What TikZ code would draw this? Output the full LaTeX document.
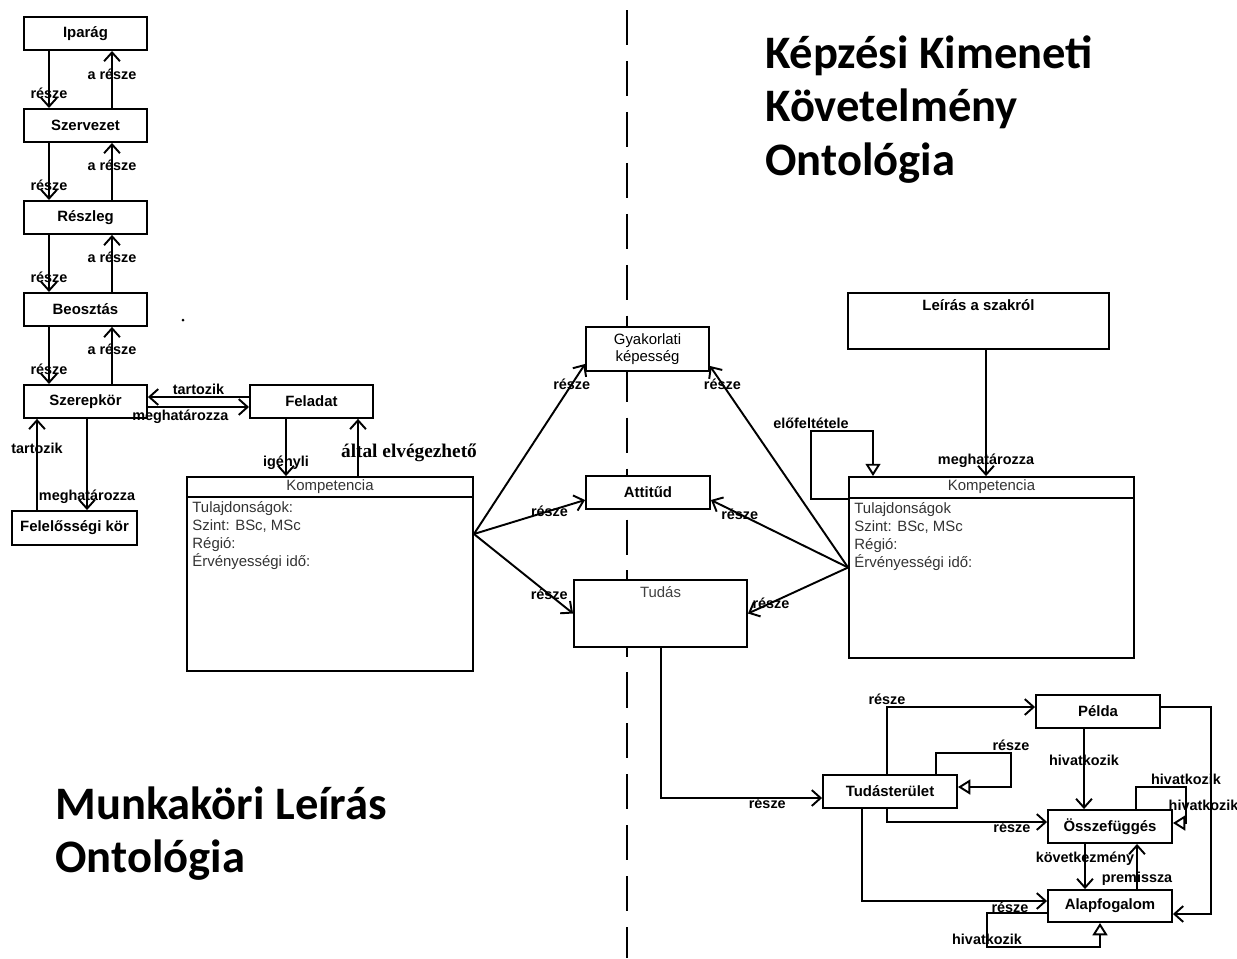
\documentclass[tikz,border=0pt]{standalone}
\usepackage{fontspec}
\setmainfont{Liberation Sans}
\newfontfamily\titlefont{Carlito}
\newfontfamily\timesfont{Liberation Serif}
\usetikzlibrary{arrows.meta, positioning}

\tikzset{
  box/.style={draw, rectangle, line width=1.1pt, fill=white, inner sep=1pt, font=\fontsize{8.5}{10}\selectfont\bfseries},
  colbox/.style={minimum width=2.46cm, minimum height=0.66cm},
  lbl/.style={font=\fontsize{8.2}{10}\selectfont\bfseries, inner sep=1pt},
  arr/.style={line width=1.1pt, -{Straight Barb[length=5pt,width=9pt]}},
  tri/.style={line width=1.1pt, -{Triangle[open,length=7pt,width=8.5pt]}},
  attr/.style={font=\fontsize{8.5}{10.2}\selectfont, text=black!80, align=left, anchor=north west, inner sep=0pt},
  title/.style={font=\titlefont\bfseries\fontsize{26.5}{30.5}\selectfont, align=left, anchor=north west, inner sep=0pt}
}

\begin{document}
\begin{tikzpicture}[x=0.02cm, y=-0.02cm, node distance=1.84cm]
\useasboundingbox (0,0) rectangle (1237,958);

    % Separator
    \draw[line width=1.6pt, dash pattern=on 20pt off 9pt] (627,10) -- (627,958);
    \fill (183,320) circle (1.5);

    % Titles
    \node (titleR) [title] at (765,35) {Képzési Kimeneti\\Követelmény\\Ontológia};
    \node (titleL) [title] at (55,786) {Munkaköri Leírás\\Ontológia};

    % Define nodes (left)
    \node (iparag) [box, colbox] at (85.5,33.5) {Iparág};
    \node (szervezet) [box, colbox, below of=iparag] {Szervezet};
    \node (reszleg) [box, colbox, below of=szervezet] {Részleg};
    \node (beosztas) [box, colbox, below of=reszleg] {Beosztás};
    \node (szerepkor) [box, colbox, below of=beosztas] {Szerepkör};
    \node (feladat) [box, colbox, right of=szerepkor, node distance=4.52cm] {Feladat};
    \node (felelosseg) [box, minimum width=2.5cm, minimum height=0.68cm] at (74.5,528) {Felelősségi kör};

    \node (kompL) [box, minimum width=5.72cm, minimum height=3.88cm] at (330,574) {};
    \node (kompLhead) [lbl, font=\fontsize{8.5}{10}\selectfont, text=black!80] at ([yshift=-0.21cm]kompL.north) {Kompetencia};
    \draw[line width=1.1pt] ([yshift=-0.42cm]kompL.north west) -- ([yshift=-0.42cm]kompL.north east);
    \node (kompLattr) [attr] at ([xshift=0.12cm,yshift=-0.5cm]kompL.north west) {Tulajdonságok:\\Szint: BSc, MSc\\Régió:\\Érvényességi idő:};

    % Define nodes (middle)
    \node (gyak) [box, font=\fontsize{8.5}{9.6}\selectfont, align=center, minimum width=2.46cm, minimum height=0.88cm] at (647.5,349) {Gyakorlati\\képesség};
    \node (att) [box, minimum width=2.48cm, minimum height=0.66cm] at (648,492.5) {Attitűd};
    \node (tudas) [box, minimum width=3.46cm, minimum height=1.34cm,
        label={[lbl, font=\fontsize{8.5}{10}\selectfont, anchor=north, yshift=-0.1cm, text=black!75]north:Tudás}] at (660.5,613.5) {};

    % Define nodes (right)
    \node (leiras) [box, minimum width=5.22cm, minimum height=1.12cm,
        label={[lbl, font=\fontsize{8.5}{10}\selectfont\bfseries, anchor=north, yshift=-0.1cm]north:Leírás a szakról}] at (978.5,321) {};
    \node (kompR) [box, minimum width=5.7cm, minimum height=3.62cm] at (991.5,567.5) {};
    \node (kompRhead) [lbl, font=\fontsize{8.5}{10}\selectfont, text=black!80] at ([yshift=-0.22cm]kompR.north) {Kompetencia};
    \draw[line width=1.1pt] ([yshift=-0.44cm]kompR.north west) -- ([yshift=-0.44cm]kompR.north east);
    \node (kompRattr) [attr] at ([xshift=0.12cm,yshift=-0.52cm]kompR.north west) {Tulajdonságok\\Szint: BSc, MSc\\Régió:\\Érvényességi idő:};

    \node (tudaster) [box, minimum width=2.68cm, minimum height=0.66cm] at (890,791.5) {Tudásterület};
    \node (pelda) [box, minimum width=2.48cm, minimum height=0.66cm] at (1098,711.5) {Példa};
    \node (osszef) [box, minimum width=2.48cm, minimum height=0.66cm] at (1110,826.5) {Összefüggés};
    \node (alap) [box, minimum width=2.48cm, minimum height=0.64cm] at (1110,906) {Alapfogalom};

    % Draw arrows (left)
    \foreach \ua/\ub in {iparag/szervezet, szervezet/reszleg, reszleg/beosztas, beosztas/szerepkor} {
        \draw[arr] (49,0 |- \ua.south) -- node[lbl, pos=0.75] {része} (49,0 |- \ub.north);
        \draw[arr] (112,0 |- \ub.north) -- node[lbl, pos=0.6] {a része} (112,0 |- \ua.south);
    }
    \draw[arr] (feladat.west |- 0,397) -- node[lbl, above] {tartozik} (szerepkor.east |- 0,397);
    \draw[arr] (szerepkor.east |- 0,407) -- node[lbl, below, pos=0.32] {meghatározza} (feladat.west |- 0,407);
    \draw[arr] (37,0 |- felelosseg.north) -- node[lbl, pos=0.68] {tartozik} (37,0 |- szerepkor.south);
    \draw[arr] (87,0 |- szerepkor.south) -- node[lbl, pos=0.85] {meghatározza} (87,0 |- felelosseg.north);
    \draw[arr] (286,0 |- feladat.south) -- node[lbl, pos=0.76] {igényli} (286,0 |- kompL.north);
    \draw[arr] (358,0 |- kompL.north) -- node[lbl, pos=0.41, xshift=1.02cm, font=\timesfont\bfseries\fontsize{11}{13}\selectfont] {által elvégezhető} (358,0 |- feladat.south);

    % Draw arrows (middle)
    \coordinate (kl) at (kompL.east |- 0,534);
    \draw[arr] (kl) -- node[lbl, pos=0.88] {része} ([yshift=0.16cm]gyak.south west);
    \draw[arr] (kl) -- node[lbl, pos=0.68] {része} ([yshift=-0.15cm]att.west);
    \draw[arr] (kl) -- node[lbl, pos=0.76] {része} (tudas.west);
    \draw[arr] (kompR.west) -- node[lbl, pos=0.91] {része} ([yshift=0.12cm]gyak.south east);
    \draw[arr] (kompR.west) -- node[lbl, pos=0.79] {része} ([yshift=-0.15cm]att.east);
    \draw[arr] (kompR.west) -- node[lbl, pos=0.77] {része} (tudas.east);

    % Draw arrows (right)
    \draw[arr] (986,0 |- leiras.south) -- node[lbl, pos=0.875] {meghatározza} (986,0 |- kompR.north);
    \draw[tri] (kompR.west |- 0,499) -| (811,431) -| node[lbl, pos=0, above] {előfeltétele} (873,0 |- kompR.north);
    \draw[arr] (661,0 |- tudas.south) |- node[lbl, pos=0.83, yshift=-0.1cm] {része} (tudaster.west |- 0,798);
    \draw[arr] (887,0 |- tudaster.north) |- node[lbl, pos=0.5, above] {része} (pelda.west |- 0,707);
    \draw[tri] (936,0 |- tudaster.north) |- node[lbl, pos=1, above] {része} (1011,753) |- (tudaster.east |- 0,787);
    \draw[arr] (887,0 |- tudaster.south) |- node[lbl, pos=0.89, yshift=-0.1cm] {része} (osszef.west |- 0,822);
    \draw[arr] (862,0 |- tudaster.south) |- node[lbl, pos=0.9, yshift=-0.12cm] {része} (alap.west |- 0,901);
    \draw[arr] (1084,0 |- pelda.south) -- node[lbl, pos=0.39] {hivatkozik} (1084,0 |- osszef.north);
    \draw[arr] (pelda.east |- 0,707) -- (1211,707) |- (alap.east |- 0,914);
    \draw[tri] (1136,0 |- osszef.north) |- node[lbl, pos=1, above] {hivatkozik} (1186,787)
        |- node[lbl, pos=0.25, anchor=west, xshift=-0.4cm] {hivatkozik} (osszef.east |- 0,823);
    \draw[arr] (1085,0 |- osszef.south) -- node[lbl, pos=0.32] {következmény} (1085,0 |- alap.north);
    \draw[arr] (1137,0 |- alap.north) -- node[lbl, pos=0.23] {premissza} (1137,0 |- osszef.south);
    \draw[tri] (alap.west |- 0,913) -| node[lbl, pos=0.88] {hivatkozik} (987,947) -| (1100,0 |- alap.south);

\end{tikzpicture}
\end{document}
